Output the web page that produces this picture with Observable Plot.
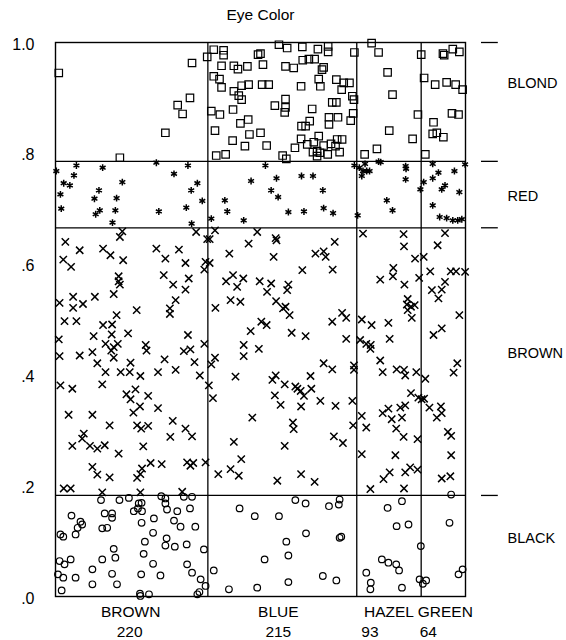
<!DOCTYPE html>
<html><head><meta charset="utf-8">
<script src="https://cdn.jsdelivr.net/npm/d3@7"></script>
<script src="https://cdn.jsdelivr.net/npm/@observablehq/plot@0.6"></script>
<style>body{margin:0;background:#fff} svg{display:block}</style>
</head><body><div id="chart"></div>
<script>
const title = "Eye Color";
const eyeColors = ["BROWN","BLUE","HAZEL","GREEN"];
const eyeCounts = [220,215,93,64];
const hairColors = ["BLACK","BROWN","RED","BLOND"];
const hairCounts = [108,286,71,127];
const yTicks = [0,0.2,0.4,0.6,0.8,1.0];

// each point: [cumulative eye proportion, cumulative hair proportion]
const blondPts = [[0.008,0.945],[0.333,0.963],[0.370,0.974],[0.328,0.900],[0.298,0.887],[0.310,0.871],[0.268,0.837],[0.157,0.792],
[0.386,0.987],[0.410,0.986],[0.410,0.977],[0.545,0.996],[0.565,0.990],[0.602,0.992],[0.640,0.988],[0.665,0.993],[0.665,0.983],[0.729,0.982],[0.494,0.978],[0.500,0.980],[0.405,0.958],[0.435,0.958],[0.445,0.952],[0.468,0.957],[0.506,0.960],[0.561,0.957],[0.581,0.954],[0.603,0.968],[0.618,0.970],[0.632,0.970],[0.650,0.951],[0.654,0.955],[0.386,0.939],[0.400,0.934],[0.405,0.919],[0.454,0.922],[0.471,0.924],[0.504,0.924],[0.520,0.924],[0.599,0.921],[0.642,0.934],[0.646,0.921],[0.685,0.933],[0.703,0.927],[0.717,0.927],[0.698,0.915],[0.435,0.912],[0.447,0.904],[0.454,0.897],[0.561,0.898],[0.724,0.903],[0.728,0.897],[0.675,0.892],[0.685,0.892],[0.535,0.886],[0.561,0.883],[0.559,0.874],[0.380,0.876],[0.401,0.870],[0.433,0.879],[0.626,0.880],[0.726,0.872],[0.720,0.859],[0.470,0.861],[0.451,0.854],[0.667,0.865],[0.689,0.865],[0.667,0.852],[0.620,0.858],[0.600,0.849],[0.610,0.849],[0.389,0.841],[0.473,0.834],[0.500,0.837],[0.432,0.823],[0.462,0.813],[0.515,0.814],[0.599,0.826],[0.642,0.831],[0.687,0.825],[0.699,0.825],[0.614,0.816],[0.630,0.820],[0.654,0.814],[0.672,0.817],[0.683,0.813],[0.584,0.810],[0.628,0.802],[0.638,0.804],[0.645,0.801],[0.664,0.798],[0.693,0.802],[0.392,0.796],[0.415,0.798],[0.554,0.796],[0.563,0.790],[0.638,0.795],
[0.771,0.999],[0.788,0.982],[0.810,0.946],[0.822,0.906],[0.814,0.841],[0.784,0.808],[0.754,0.798],[0.884,0.870],[0.871,0.826],
[0.892,0.978],[0.899,0.936],[0.902,0.798],[0.945,0.980],[0.948,0.977],[0.969,0.988],[0.985,0.983],[0.926,0.924],[0.954,0.928],[0.976,0.924],[0.993,0.915],[0.967,0.872],[0.983,0.870],[0.922,0.856],[0.920,0.835],[0.930,0.837],[0.946,0.829]];

const redPts = [[0.051,0.778],[0.115,0.774],[0.246,0.783],[0.323,0.778],[0.002,0.768],[0.045,0.760],[0.289,0.763],[0.020,0.746],[0.035,0.742],[0.163,0.748],[0.346,0.746],[0.106,0.733],[0.331,0.733],[0.012,0.726],[0.095,0.718],[0.149,0.719],[0.358,0.714],[0.014,0.700],[0.108,0.697],[0.098,0.690],[0.146,0.697],[0.252,0.695],[0.319,0.702],[0.139,0.675],[0.332,0.673],
[0.512,0.778],[0.729,0.778],[0.741,0.774],[0.539,0.755],[0.600,0.759],[0.628,0.759],[0.477,0.750],[0.526,0.733],[0.652,0.733],[0.543,0.721],[0.413,0.715],[0.419,0.695],[0.568,0.694],[0.606,0.695],[0.654,0.701],[0.677,0.692],[0.380,0.682],[0.459,0.679],
[0.755,0.781],[0.750,0.768],[0.759,0.768],[0.766,0.768],[0.747,0.759],[0.788,0.785],[0.793,0.784],[0.854,0.777],[0.855,0.772],[0.854,0.753],[0.808,0.715],[0.822,0.697],[0.737,0.688],[0.890,0.735],
[0.898,0.748],[0.920,0.781],[0.999,0.780],[0.934,0.765],[0.920,0.755],[0.973,0.768],[0.950,0.742],[0.942,0.735],[0.985,0.730],[0.920,0.706],[0.937,0.685],[0.954,0.683],[0.969,0.679],[0.981,0.679],[0.991,0.681]];

const brownPts = [[0.163,0.659],[0.157,0.649],[0.343,0.658],[0.370,0.645],[0.024,0.640],[0.059,0.625],[0.116,0.628],[0.134,0.616],[0.246,0.628],[0.301,0.626],[0.019,0.608],[0.038,0.595],[0.165,0.607],[0.268,0.610],[0.317,0.602],[0.366,0.604],[0.363,0.590],[0.154,0.578],[0.154,0.569],[0.157,0.563],[0.264,0.580],[0.287,0.563],[0.325,0.574],[0.317,0.554],[0.010,0.530],[0.043,0.541],[0.043,0.521],[0.067,0.528],[0.096,0.541],[0.142,0.546],[0.293,0.535],[0.279,0.520],[0.279,0.510],[0.198,0.517],[0.149,0.508],[0.022,0.497],[0.051,0.497],[0.116,0.490],[0.138,0.491],[0.137,0.473],[0.093,0.470],[0.177,0.475],[0.323,0.472],[0.122,0.456],[0.142,0.450],[0.152,0.456],[0.136,0.444],[0.008,0.464],[0.220,0.454],[0.222,0.444],[0.363,0.456],[0.010,0.434],[0.059,0.435],[0.090,0.441],[0.313,0.443],[0.329,0.446],[0.142,0.431],[0.266,0.428],
[0.102,0.421],[0.183,0.422],[0.339,0.423],[0.122,0.405],[0.159,0.405],[0.181,0.405],[0.207,0.398],[0.250,0.405],[0.293,0.409],[0.352,0.399],[0.012,0.381],[0.041,0.375],[0.114,0.383],[0.374,0.381],[0.173,0.365],[0.195,0.374],[0.183,0.356],[0.226,0.362],[0.206,0.343],[0.190,0.332],[0.250,0.340],[0.032,0.328],[0.090,0.328],[0.132,0.309],[0.199,0.309],[0.209,0.303],[0.226,0.308],[0.286,0.317],[0.317,0.303],[0.333,0.289],[0.280,0.288],[0.069,0.294],[0.065,0.285],[0.041,0.272],[0.084,0.272],[0.102,0.267],[0.120,0.273],[0.214,0.271],[0.154,0.258],[0.090,0.234],[0.102,0.220],[0.132,0.215],[0.211,0.231],[0.207,0.221],[0.199,0.214],[0.232,0.241],[0.259,0.239],[0.321,0.242],[0.336,0.241],[0.329,0.236],[0.366,0.242],[0.020,0.195],[0.037,0.195],[0.114,0.188],[0.207,0.188],[0.309,0.189],
[0.389,0.661],[0.376,0.645],[0.492,0.658],[0.471,0.637],[0.537,0.647],[0.539,0.643],[0.424,0.619],[0.532,0.613],[0.681,0.640],[0.634,0.619],[0.654,0.623],[0.659,0.613],[0.376,0.602],[0.602,0.589],[0.676,0.590],[0.416,0.569],[0.433,0.580],[0.458,0.574],[0.443,0.559],[0.498,0.569],[0.526,0.565],[0.516,0.550],[0.568,0.563],[0.565,0.553],[0.427,0.535],[0.451,0.532],[0.390,0.521],[0.538,0.533],[0.555,0.520],[0.561,0.523],[0.571,0.508],[0.502,0.496],[0.515,0.490],[0.476,0.479],[0.576,0.476],[0.610,0.470],[0.675,0.496],[0.699,0.512],[0.709,0.503],[0.709,0.465],[0.459,0.454],[0.496,0.447],[0.389,0.431],[0.459,0.434],
[0.380,0.419],[0.439,0.397],[0.537,0.399],[0.529,0.391],[0.559,0.383],[0.585,0.379],[0.590,0.375],[0.598,0.371],[0.606,0.362],[0.624,0.375],[0.622,0.398],[0.654,0.421],[0.675,0.410],[0.728,0.417],[0.728,0.409],[0.384,0.358],[0.535,0.363],[0.549,0.346],[0.599,0.343],[0.646,0.353],[0.683,0.344],[0.724,0.353],[0.480,0.323],[0.579,0.314],[0.581,0.302],[0.726,0.309],[0.679,0.289],[0.701,0.277],[0.435,0.279],[0.559,0.272],[0.453,0.248],[0.427,0.230],[0.447,0.218],[0.397,0.221],[0.541,0.209],[0.599,0.221],[0.632,0.207],
[0.750,0.655],[0.849,0.654],[0.850,0.632],[0.877,0.610],[0.824,0.593],[0.823,0.578],[0.792,0.572],[0.851,0.563],[0.887,0.575],[0.859,0.537],[0.857,0.527],[0.867,0.523],[0.859,0.517],[0.876,0.526],[0.869,0.503],[0.747,0.500],[0.771,0.490],[0.812,0.494],[0.743,0.463],[0.758,0.456],[0.769,0.454],[0.768,0.447],[0.815,0.465],[0.792,0.426],[0.798,0.405],[0.832,0.410],[0.850,0.409],[0.853,0.399],[0.880,0.405],[0.867,0.367],[0.885,0.359],[0.812,0.339],[0.798,0.331],[0.820,0.320],[0.841,0.341],[0.853,0.345],[0.845,0.323],[0.747,0.326],[0.758,0.305],[0.831,0.303],[0.849,0.288],[0.883,0.284],[0.747,0.257],[0.829,0.255],[0.800,0.212],[0.815,0.224],[0.853,0.224],[0.865,0.233],[0.883,0.229],[0.768,0.194],[0.850,0.195],
[0.898,0.613],[0.950,0.656],[0.932,0.634],[0.914,0.587],[0.964,0.587],[0.977,0.587],[0.999,0.586],[0.950,0.568],[0.918,0.553],[0.942,0.554],[0.934,0.538],[0.985,0.508],[0.942,0.484],[0.922,0.472],[0.902,0.393],[0.899,0.357],[0.893,0.356],[0.912,0.341],[0.940,0.343],[0.942,0.331],[0.930,0.323],[0.980,0.421],[0.971,0.404],[0.957,0.297],[0.965,0.290],[0.965,0.255],[0.942,0.213],[0.963,0.217]];

const blackPts = [[0.111,0.174],[0.156,0.174],[0.179,0.178],[0.203,0.168],[0.210,0.169],[0.258,0.181],[0.268,0.177],[0.268,0.168],[0.313,0.180],[0.333,0.180],[0.191,0.154],[0.201,0.159],[0.211,0.154],[0.272,0.157],[0.297,0.154],[0.328,0.159],[0.039,0.146],[0.120,0.150],[0.138,0.150],[0.138,0.142],[0.061,0.135],[0.065,0.130],[0.054,0.124],[0.114,0.123],[0.126,0.124],[0.210,0.133],[0.240,0.141],[0.289,0.137],[0.305,0.126],[0.341,0.126],[0.012,0.112],[0.019,0.108],[0.049,0.112],[0.238,0.115],[0.271,0.105],[0.268,0.092],[0.218,0.099],[0.291,0.090],[0.320,0.094],[0.362,0.085],[0.142,0.086],[0.215,0.077],[0.146,0.070],[0.114,0.067],[0.037,0.067],[0.010,0.064],[0.022,0.058],[0.238,0.059],[0.321,0.058],[0.090,0.049],[0.006,0.040],[0.019,0.034],[0.049,0.034],[0.138,0.041],[0.209,0.040],[0.256,0.038],[0.333,0.043],[0.354,0.031],[0.366,0.019],[0.015,0.011],[0.090,0.022],[0.150,0.022],[0.206,0.005],[0.207,0.001],[0.228,0.004],[0.346,0.004],[0.351,0.008],
[0.449,0.159],[0.486,0.145],[0.545,0.145],[0.585,0.174],[0.610,0.168],[0.667,0.163],[0.693,0.175],[0.691,0.166],[0.611,0.114],[0.563,0.099],[0.693,0.106],[0.697,0.108],[0.568,0.074],[0.510,0.067],[0.386,0.047],[0.652,0.037],[0.685,0.029],[0.568,0.026],[0.492,0.016],[0.423,0.013],
[0.845,0.172],[0.810,0.160],[0.832,0.127],[0.861,0.130],[0.891,0.091],[0.796,0.067],[0.812,0.061],[0.831,0.058],[0.838,0.047],[0.758,0.043],[0.769,0.025],[0.768,0.013],[0.845,0.016],[0.888,0.031],[0.896,0.023],[0.904,0.029],
[0.965,0.184],[0.961,0.133],[0.993,0.049],[0.983,0.040]];

// derived layout from the counts
const eyeTotal = d3.sum(eyeCounts);
const eyeCum = Array.from(d3.cumsum(eyeCounts), d => d / eyeTotal);
const eyeCols = eyeColors.map((name, i) => ({name, count: eyeCounts[i], x0: i ? eyeCum[i-1] : 0, x1: eyeCum[i]}));
const hairTotal = d3.sum(hairCounts);
const hairCum = Array.from(d3.cumsum(hairCounts), d => d / hairTotal);
const hairRows = hairColors.map((name, i) => ({name, y0: i ? hairCum[i-1] : 0, y1: hairCum[i]}));
const labelShift = {BLACK: 0.013, BROWN: 0.015, RED: -0.004, BLOND: 0.034};
const countShift = {BROWN: -2, BLUE: -4, HAZEL: -19, GREEN: -15};
const nameShift = {BROWN: -1, BLUE: -4, HAZEL: 0, GREEN: 2};

const ink = "#000";
const pt = {x: d => d[0], y: d => d[1], stroke: ink, fill: "none"};

const chart = Plot.plot({
  width: 566, height: 640,
  marginLeft: 55, marginRight: 101, marginTop: 42, marginBottom: 44,
  x: {domain: [0, 1], axis: null},
  y: {domain: [0, 1], axis: null},
  style: {fontFamily: "'Liberation Sans', Arial, Helvetica, sans-serif", background: "white", color: ink},
  marks: [
    Plot.dot(blackPts, {...pt, symbol: "circle", r: 3.3, strokeWidth: 1.2}),
    Plot.dot(brownPts, {...pt, symbol: "times", r: 3.4, strokeWidth: 1.5}),
    Plot.dot(redPts, {...pt, symbol: "asterisk", r: 3.2, strokeWidth: 1.5}),
    Plot.dot(blondPts, {...pt, symbol: "square", r: 4.2, strokeWidth: 1.2}),
    Plot.ruleX(eyeCum.slice(0, -1), {x: d => d, y1: () => 0, y2: () => 1, stroke: ink, strokeWidth: 1.3}),
    Plot.ruleY(hairCum.slice(0, -1), {y: d => d, x1: () => 0, x2: () => 1, stroke: ink, strokeWidth: 1.3}),
    Plot.ruleY(hairCum, {y: d => d, x1: () => 1.039, x2: () => 1.08, stroke: ink, strokeWidth: 1.3}),
    Plot.frame({stroke: ink, strokeWidth: 1.4}),
    Plot.axisY({ticks: yTicks, tickSize: 0, tickPadding: 21, fontSize: 16, dy: 2,
      tickFormat: d => d === 1 ? "1.0" : d3.format(".1f")(d).replace(/^0/, "")}),
    Plot.text(hairRows, {x: () => 1, y: d => (d.y0 + d.y1) / 2 + labelShift[d.name], text: "name",
      textAnchor: "start", dx: 42, fontSize: 14.5}),
    Plot.text(eyeCols, {x: d => (d.x0 + d.x1) / 2 + nameShift[d.name] / 410, y: () => 0, text: "name", dy: 16, fontSize: 15.5}),
    Plot.text(eyeCols, {x: d => (d.x0 + d.x1) / 2 + countShift[d.name] / 410, y: () => 0, text: d => String(d.count), dy: 36, fontSize: 15.5}),
    Plot.text([title], {x: () => 0.5, y: () => 1, text: d => d, dy: -27, fontSize: 15.5})
  ]
});
document.getElementById("chart").appendChild(chart);
</script>
</body></html>
